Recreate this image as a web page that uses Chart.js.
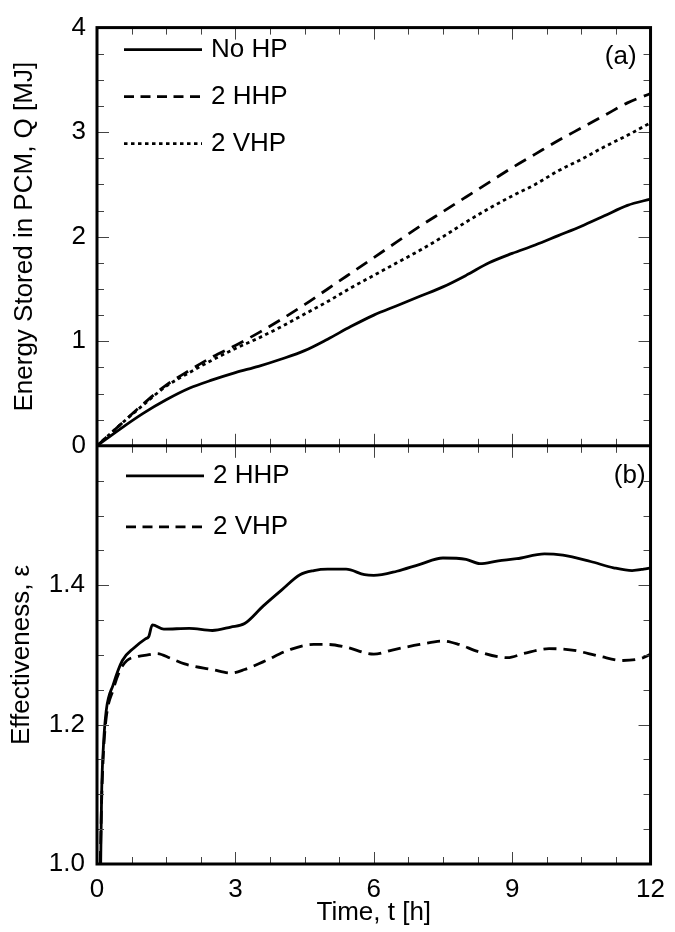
<!DOCTYPE html>
<html>
<head>
<meta charset="utf-8">
<script src="https://cdn.jsdelivr.net/npm/chart.js@4.4.1/dist/chart.umd.min.js"></script>
<style>
  html, body { margin: 0; padding: 0; background: #fff; }
  #wrap { width: 675px; height: 932px; }
</style>
</head>
<body>
<div id="wrap"><canvas id="chart" width="675" height="932"></canvas></div>
<script>
// (a) energy stored in the PCM [MJ], read every 0.5 h
const timeQ = [0, 0.5, 1, 1.5, 2, 2.5, 3, 3.5, 4, 4.5, 5, 5.5, 6, 6.5, 7, 7.5, 8, 8.5, 9, 9.5, 10, 10.5, 11, 11.5, 12];
const qNoHP = [0, 0.16, 0.31, 0.44, 0.55, 0.63, 0.70, 0.76, 0.83, 0.91, 1.02, 1.14, 1.25, 1.34, 1.43, 1.52, 1.63, 1.75, 1.84, 1.92, 2.01, 2.10, 2.20, 2.30, 2.36];
const qHHP = [0, 0.20, 0.40, 0.58, 0.72, 0.85, 0.96, 1.08, 1.21, 1.35, 1.50, 1.65, 1.80, 1.95, 2.10, 2.24, 2.38, 2.52, 2.66, 2.79, 2.92, 3.04, 3.16, 3.28, 3.37];
const qVHP = [0, 0.20, 0.39, 0.57, 0.70, 0.82, 0.93, 1.03, 1.14, 1.26, 1.38, 1.51, 1.63, 1.75, 1.87, 2.00, 2.14, 2.27, 2.39, 2.50, 2.63, 2.74, 2.86, 2.97, 3.09];

// (b) effectiveness
const timeEffH = [0.08, 0.1, 0.14, 0.2, 0.35, 0.55, 0.8, 1.05, 1.12, 1.2, 1.45, 2.0, 2.5, 2.9, 3.2, 3.6, 4.0, 4.4, 4.7, 5.0, 5.4, 5.8, 6.0, 6.5, 7.0, 7.5, 8.0, 8.3, 8.7, 9.1, 9.7, 10.1, 10.7, 11.2, 11.6, 11.85, 12];
const effHHP = [1.0, 1.10, 1.17, 1.22, 1.257, 1.292, 1.31, 1.323, 1.326, 1.343, 1.337, 1.338, 1.335, 1.34, 1.345, 1.37, 1.393, 1.415, 1.421, 1.423, 1.423, 1.415, 1.414, 1.42, 1.43, 1.439, 1.437, 1.431, 1.435, 1.438, 1.445, 1.443, 1.434, 1.425, 1.421, 1.423, 1.425];
const timeEffV = [0.07, 0.1, 0.14, 0.2, 0.35, 0.5, 0.65, 0.9, 1.1, 1.3, 1.6, 1.9, 2.5, 2.9, 3.2, 3.6, 4.2, 4.7, 5.0, 5.4, 6.0, 6.4, 7.0, 7.5, 7.85, 8.25, 8.9, 9.25, 9.8, 10.3, 10.9, 11.4, 11.8, 12];
const effVHP = [1.0, 1.09, 1.16, 1.21, 1.25, 1.278, 1.292, 1.298, 1.30, 1.302, 1.295, 1.287, 1.279, 1.274, 1.279, 1.29, 1.308, 1.315, 1.315, 1.311, 1.301, 1.307, 1.315, 1.32, 1.315, 1.305, 1.296, 1.302, 1.309, 1.307, 1.298, 1.292, 1.295, 1.301];

const xTicks = [0, 3, 6, 9, 12];
const qTicks = [0, 1, 2, 3, 4];
const effTicks = [1.0, 1.2, 1.4];

const FONT = "'Liberation Sans', Arial, Helvetica, sans-serif";
const pts = (xs, ys) => xs.map((x, i) => ({ x: x, y: ys[i] }));

function line(label, data, yAxis, dash) {
  return {
    label: label, data: data, xAxisID: 'x', yAxisID: yAxis,
    borderColor: '#000', borderWidth: 2.8, borderDash: dash,
    borderCapStyle: 'butt', pointRadius: 0, fill: false,
    cubicInterpolationMode: 'monotone'
  };
}

// inward ticks, frame, legends and panel tags
const framePlugin = {
  id: 'frame',
  afterDatasetsDraw(chart) {
    const { ctx, scales: { x, yA, yB } } = chart;
    const L = x.left, R = x.right, T = yA.top, M = yA.bottom, B = yB.bottom;
    ctx.save();
    ctx.strokeStyle = '#444';
    ctx.lineWidth = 1;
    ctx.beginPath();
    for (let i = 0; i <= 16; i++) {
      const px = Math.round(x.getPixelForValue(i * 0.75)) + 0.5;
      const len = i % 4 === 0 ? 12 : 7;
      ctx.moveTo(px, T); ctx.lineTo(px, T + len);
      ctx.moveTo(px, M - len); ctx.lineTo(px, M + len);
      ctx.moveTo(px, B); ctx.lineTo(px, B - len);
    }
    for (let i = 0; i <= 16; i++) {
      const py = Math.round(yA.getPixelForValue(i * 0.25)) + 0.5;
      const len = i % 4 === 0 ? 12 : 7;
      ctx.moveTo(L, py); ctx.lineTo(L + len, py);
      ctx.moveTo(R, py); ctx.lineTo(R - len, py);
    }
    for (let i = 0; i <= 12; i++) {
      const py = Math.round(yB.getPixelForValue(1 + i * 0.05)) + 0.5;
      const len = i % 4 === 0 ? 12 : 7;
      ctx.moveTo(L, py); ctx.lineTo(L + len, py);
      ctx.moveTo(R, py); ctx.lineTo(R - len, py);
    }
    ctx.stroke();

    ctx.strokeStyle = '#000';
    ctx.lineWidth = 3;
    ctx.strokeRect(L, T, R - L, B - T);
    ctx.beginPath();
    ctx.moveTo(L, M); ctx.lineTo(R, M);
    ctx.stroke();

    // legends
    ctx.font = '26px ' + FONT;
    ctx.fillStyle = '#000';
    ctx.textBaseline = 'middle';
    const legend = (axis, x0, y0, dy, dashes) => {
      let row = 0;
      chart.data.datasets.forEach(ds => {
        if (ds.yAxisID !== axis) return;
        const y = y0 + row * dy;
        ctx.lineWidth = 2.8;
        ctx.setLineDash(dashes[row]);
        ctx.beginPath();
        ctx.moveTo(x0, y); ctx.lineTo(x0 + 78, y);
        ctx.stroke();
        ctx.setLineDash([]);
        ctx.textAlign = 'left';
        ctx.fillText(ds.label, x0 + 87, y + 0.5);
        row++;
      });
    };
    legend('yA', L + 27, T + 22, 47, [[], [10, 6.5], [3.5, 3.5]]);
    legend('yB', L + 29, M + 30, 51, [[], [10, 6.5]]);

    ctx.textAlign = 'right';
    ctx.fillText('(a)', R - 14, T + 29);
    ctx.fillText('(b)', R - 5, M + 30);
    ctx.restore();
  }
};

const tickFont = { family: FONT, size: 26 };
const titleFont = { family: FONT, size: 26 };

new Chart(document.getElementById('chart'), {
  type: 'line',
  data: {
    datasets: [
      line('No HP', pts(timeQ, qNoHP), 'yA', []),
      line('2 HHP', pts(timeQ, qHHP), 'yA', [13, 8]),
      line('2 VHP', pts(timeQ, qVHP), 'yA', [3.5, 3.5]),
      line('2 HHP', pts(timeEffH, effHHP), 'yB', []),
      line('2 VHP', pts(timeEffV, effVHP), 'yB', [13, 7])
    ]
  },
  options: {
    responsive: false,
    animation: false,
    devicePixelRatio: 1,
    layout: { padding: { top: 22, right: 17, left: 0, bottom: 0 } },
    plugins: { legend: { display: false }, tooltip: { enabled: false } },
    scales: {
      x: {
        type: 'linear', position: 'bottom', min: 0, max: 12,
        grid: { display: false, drawTicks: false }, border: { display: false },
        afterBuildTicks: s => { s.ticks = xTicks.map(v => ({ value: v })); },
        afterFit: s => { s.height = 68; },
        ticks: { font: tickFont, color: '#000', padding: 10, maxRotation: 0, callback: v => String(v) },
        title: { display: true, text: 'Time, t [h]', font: titleFont, color: '#000', padding: { top: 0, bottom: 4 } }
      },
      yA: {
        type: 'linear', position: 'left', stack: 'panels', weight: 2, min: 0, max: 4,
        grid: { display: false, drawTicks: false }, border: { display: false },
        afterBuildTicks: s => { s.ticks = qTicks.map(v => ({ value: v })); },
        afterFit: s => { s.width = 97; },
        ticks: { font: tickFont, color: '#000', padding: 11, callback: v => String(v) },
        title: { display: true, text: 'Energy Stored in PCM, Q [MJ]', font: titleFont, color: '#000', padding: { top: 9, bottom: 0 } }
      },
      yB: {
        type: 'linear', position: 'left', stack: 'panels', weight: 1, min: 1.0, max: 1.6,
        grid: { display: false, drawTicks: false }, border: { display: false },
        afterBuildTicks: s => { s.ticks = effTicks.map(v => ({ value: v })); },
        afterFit: s => { s.width = 97; },
        ticks: { font: tickFont, color: '#000', padding: 12, callback: v => Number(v).toFixed(1) },
        title: { display: true, text: 'Effectiveness, ε', font: titleFont, color: '#000', padding: { top: 6, bottom: 0 } }
      }
    }
  },
  plugins: [framePlugin]
});
</script>
</body>
</html>
